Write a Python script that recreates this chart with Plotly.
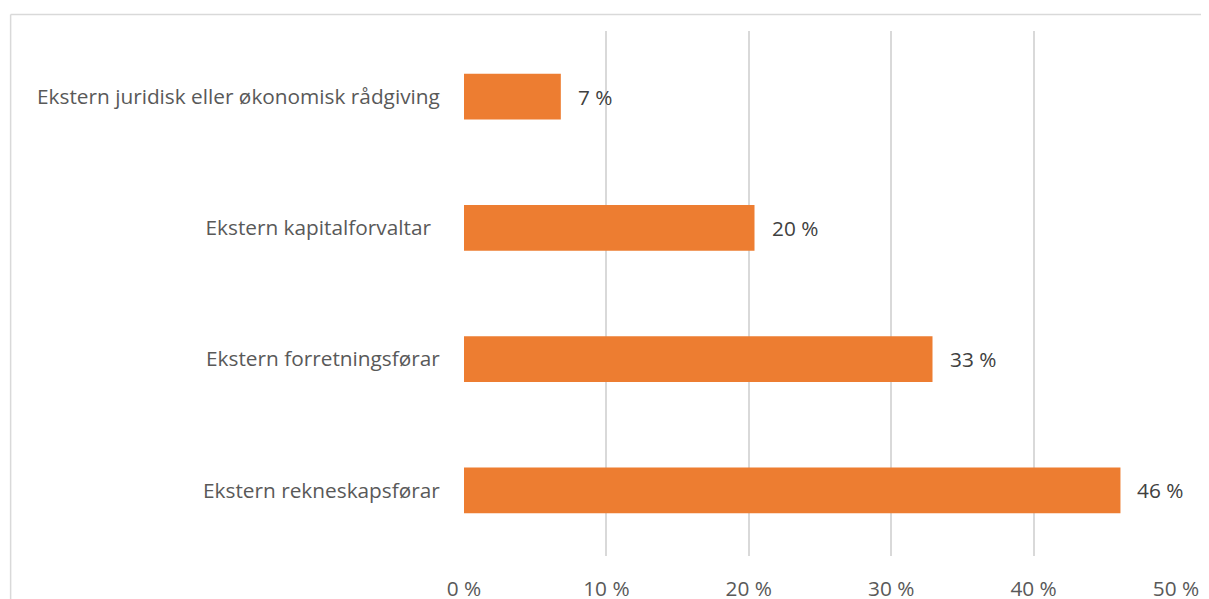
import plotly.graph_objects as go

categories = [
    "Ekstern juridisk eller økonomisk rådgiving",
    "Ekstern kapitalforvaltar\u00a0\u2009",
    "Ekstern forretningsførar",
    "Ekstern rekneskapsførar",
]
values = [0.068, 0.204, 0.329, 0.461]
tick_vals = [0, 0.1, 0.2, 0.3, 0.4, 0.5]
tick_text = ["0 %", "10 %", "20 %", "30 %", "40 %", "50 %"]
labels = [f"{round(v * 100)} %" for v in values]

OFF = 8  # default page body margin
W, H = 1209 - OFF, 599 - OFF
L, R, T, B = 463.5 - OFF, 33.3, 31 - OFF, 43
pw, ph = W - L - R, H - T - B
FS = 20.8

fig = go.Figure(go.Bar(
    y=categories, x=values, orientation="h",
    marker=dict(color="#ED7D31", line=dict(width=0)),
    hoverinfo="skip",
))

annotations = [
    dict(x=v, y=c, xref="x", yref="y", text=t, showarrow=False,
         xanchor="left", yanchor="middle", xshift=15,
         font=dict(family="Open Sans", size=FS, color="#404040"))
    for v, c, t in zip(values, categories, labels)
]

def px_x(x):
    return (x - OFF - L) / pw

def px_y(y):
    return (H - B - (y - OFF)) / ph

fig.update_layout(
    width=W, height=H,
    margin=dict(l=L, r=R, t=T, b=B, autoexpand=False),
    paper_bgcolor="white", plot_bgcolor="white",
    bargap=0.65,
    showlegend=False,
    font=dict(family="Open Sans", size=FS, color="#595959"),
    xaxis=dict(
        range=[0, 0.5], tickvals=tick_vals, ticktext=tick_text,
        showgrid=True, gridcolor="#D9D9D9", gridwidth=1.5,
        zeroline=False, showline=False, automargin=False,
        ticks="outside", ticklen=14, tickcolor="rgba(0,0,0,0)",
        tickfont=dict(family="Open Sans", size=FS, color="#595959"),
        fixedrange=True,
    ),
    yaxis=dict(
        autorange="reversed", showgrid=False, zeroline=False, showline=False,
        automargin=False,
        ticks="outside", ticklen=19, tickcolor="rgba(0,0,0,0)",
        tickfont=dict(family="Open Sans", size=FS, color="#595959"),
        fixedrange=True,
    ),
    annotations=annotations,
    shapes=[
        dict(type="line", xref="paper", yref="paper",
             x0=px_x(10), x1=px_x(1215), y0=px_y(14.5), y1=px_y(14.5),
             line=dict(color="#D9D9D9", width=1.5)),
        dict(type="line", xref="paper", yref="paper",
             x0=px_x(10), x1=px_x(10), y0=px_y(14.5), y1=px_y(605),
             line=dict(color="#D9D9D9", width=1.5)),
    ],
)

fig.write_html("out.html")
